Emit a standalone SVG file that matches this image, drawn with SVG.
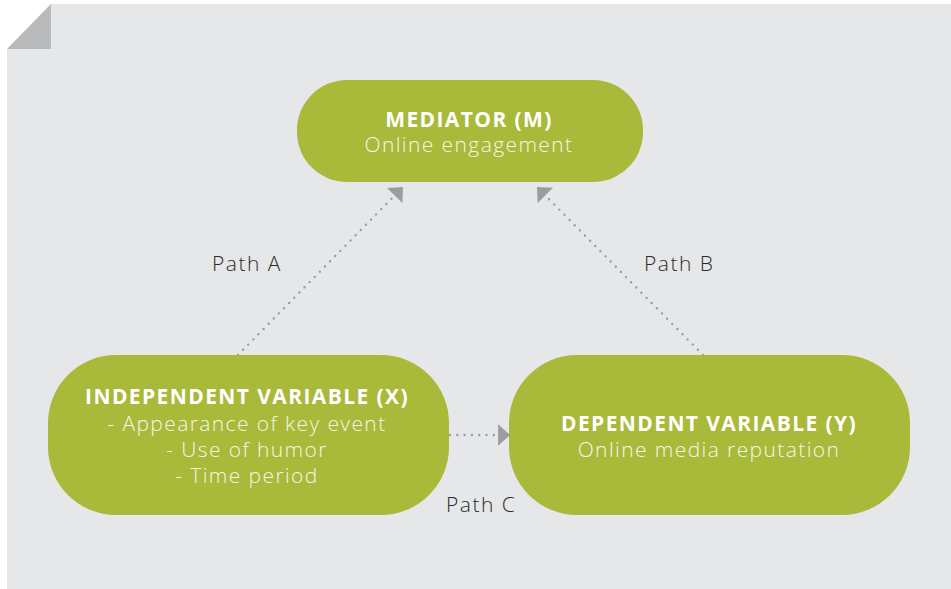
<svg xmlns="http://www.w3.org/2000/svg" width="951" height="589" viewBox="0 0 951 589">
<defs>
<style>
.box{fill:#A9B93A}
.t{font-family:"Open Sans","Liberation Sans",sans-serif;font-size:21px;text-anchor:middle}
.b{font-weight:700;fill:#ffffff;letter-spacing:1.4px}
.l{font-weight:300;fill:#F5F7E6;letter-spacing:1.4px}
.p{font-family:"Open Sans","Liberation Sans",sans-serif;font-size:21px;font-weight:300;fill:#2b2b2b;letter-spacing:1.5px}
.c{fill:none;stroke:#9A9C9F;stroke-width:2.4;stroke-linecap:round;stroke-dasharray:0 7.3}
</style>
<marker id="ah" markerUnits="userSpaceOnUse" markerWidth="14" markerHeight="22" viewBox="-12 -10 13 20" refX="0" refY="0" orient="auto">
<path d="M-11,-10 L0,0 L-11,10 Z" fill="#9A9C9F"/>
</marker>
</defs>
<rect width="951" height="589" fill="#ffffff"/>
<path d="M51,4 H951 V589 H7 V49 Z" fill="#E6E7E9"/>
<path d="M7,49 L51,4 L51,49 Z" fill="#B9BABC"/>
<g id="connectors">
<line class="c" x1="238" y1="355" x2="403" y2="187" marker-end="url(#ah)"/>
<line class="c" x1="703" y1="355" x2="537" y2="187" marker-end="url(#ah)"/>
<line class="c" x1="450" y1="435" x2="510" y2="435" marker-end="url(#ah)"/>
</g>
<g id="mediator">
<rect class="box" x="297" y="80" width="346" height="102" rx="50" ry="50"/>
<text class="t b" x="469" y="127">MEDIATOR (M)</text>
<text class="t l" x="469" y="152">Online engagement</text>
</g>
<g id="independent">
<rect class="box" x="48" y="355" width="401" height="160" rx="68" ry="68"/>
<text class="t b" x="247" y="404">INDEPENDENT VARIABLE (X)</text>
<text class="t l" x="247" y="431">- Appearance of key event</text>
<text class="t l" x="247" y="457">- Use of humor</text>
<text class="t l" x="247" y="483">- Time period</text>
</g>
<g id="dependent">
<rect class="box" x="509" y="355" width="401" height="160" rx="68" ry="68"/>
<text class="t b" x="709" y="431">DEPENDENT VARIABLE (Y)</text>
<text class="t l" x="709" y="457">Online media reputation</text>
</g>
<g id="labels">
<text class="p" x="212" y="271">Path A</text>
<text class="p" x="644" y="271">Path B</text>
<text class="p" x="446" y="512">Path C</text>
</g>
</svg>
